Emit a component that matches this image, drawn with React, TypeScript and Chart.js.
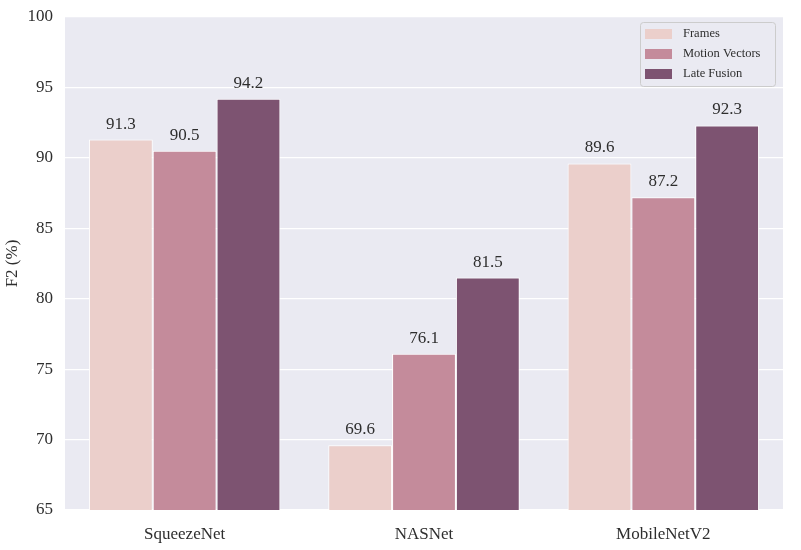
import { Chart, registerables } from "chart.js";
import { useEffect, useRef } from "react";

Chart.register(...registerables);

const models = ["SqueezeNet", "NASNet", "MobileNetV2"];
const seriesNames = ["Frames", "Motion Vectors", "Late Fusion"];
const framesF2 = [91.3, 69.6, 89.6];
const motionF2 = [90.5, 76.1, 87.2];
const fusionF2 = [94.2, 81.5, 92.3];
const seriesColors = ["#EBCFCB", "#C48B9B", "#7D5371"];
const yTicks = [65, 70, 75, 80, 85, 90, 95, 100];

const FONT = '"Liberation Serif", "DejaVu Serif", serif';
const TEXT = "#2E2E2E";

// paints the grey seaborn-like panel behind the bars
const panelPlugin = {
    id: "panelPlugin",
    beforeDraw(chart: any) {
        const { ctx, chartArea } = chart;
        ctx.save();
        ctx.fillStyle = "#EAEAF2";
        ctx.fillRect(chartArea.left, chartArea.top, chartArea.right - chartArea.left, chartArea.bottom - chartArea.top);
        ctx.restore();
    },
};

// value labels above each bar
const valueLabelPlugin = {
    id: "valueLabelPlugin",
    afterDatasetsDraw(chart: any) {
        const { ctx } = chart;
        ctx.save();
        ctx.font = `17px ${FONT}`;
        ctx.fillStyle = TEXT;
        ctx.textAlign = "center";
        ctx.textBaseline = "bottom";
        chart.data.datasets.forEach((ds: any, i: number) => {
            chart.getDatasetMeta(i).data.forEach((bar: any, j: number) => {
                ctx.fillText(ds.data[j].toFixed(1), bar.x, bar.y - 7);
            });
        });
        ctx.restore();
    },
};

// legend box in the upper right corner of the plot
const legendBoxPlugin = {
    id: "legendBoxPlugin",
    afterDraw(chart: any) {
        const { ctx, chartArea } = chart;
        const w = 135;
        const h = 64;
        const x = chartArea.right - w - 8;
        const y = chartArea.top + 5;
        ctx.save();
        ctx.fillStyle = "rgba(234,234,242,0.85)";
        ctx.strokeStyle = "#CCCCCC";
        ctx.lineWidth = 1;
        ctx.beginPath();
        ctx.roundRect(x + 0.5, y + 0.5, w, h, 3);
        ctx.fill();
        ctx.stroke();
        ctx.font = `12.5px ${FONT}`;
        ctx.textBaseline = "middle";
        ctx.textAlign = "left";
        chart.data.datasets.forEach((ds: any, i: number) => {
            const cy = y + 12 + i * 20;
            ctx.fillStyle = ds.backgroundColor;
            ctx.fillRect(x + 5, cy - 5, 27, 10);
            ctx.fillStyle = TEXT;
            ctx.fillText(ds.label, x + 43, cy);
        });
        ctx.restore();
    },
};

export default function App() {
    const canvasRef = useRef<HTMLCanvasElement | null>(null);

    useEffect(() => {
        if (!canvasRef.current) return;
        document.body.style.margin = "0";
        const values = [framesF2, motionF2, fusionF2];

        const chart = new Chart(canvasRef.current, {
            type: "bar",
            data: {
                labels: models,
                datasets: seriesNames.map((name, i) => ({
                    label: name,
                    data: values[i],
                    backgroundColor: seriesColors[i],
                    borderColor: "#FFFFFF",
                    borderWidth: 1,
                    categoryPercentage: 0.8,
                    barPercentage: 1.0,
                })),
            },
            options: {
                responsive: false,
                animation: false,
                layout: { padding: { top: 17, right: 18, left: 0, bottom: 0 } },
                plugins: {
                    legend: { display: false },
                    tooltip: { enabled: false },
                },
                scales: {
                    x: {
                        grid: { display: false },
                        border: { display: false },
                        ticks: { color: TEXT, font: { family: FONT, size: 17 }, padding: 6 },
                        afterFit: (s: any) => { s.height = 40; },
                    },
                    y: {
                        min: 65,
                        max: 100,
                        afterBuildTicks: (s: any) => { s.ticks = yTicks.map((v) => ({ value: v })); },
                        grid: { color: "#FFFFFF", lineWidth: 1.2, drawTicks: false },
                        border: { display: false },
                        ticks: { color: TEXT, font: { family: FONT, size: 17 }, padding: 12 },
                        title: {
                            display: true,
                            text: "F2 (%)",
                            color: TEXT,
                            font: { family: FONT, size: 17 },
                            padding: { top: 2, bottom: 0 },
                        },
                        afterFit: (s: any) => {
                            s.width = 65;
                            s.paddingTop = 0;
                            s.paddingBottom = 0;
                        },
                    },
                },
            } as any,
            plugins: [panelPlugin, valueLabelPlugin, legendBoxPlugin],
        });

        return () => chart.destroy();
    }, []);

    return <canvas ref={canvasRef} width={801} height={550} />;
}
